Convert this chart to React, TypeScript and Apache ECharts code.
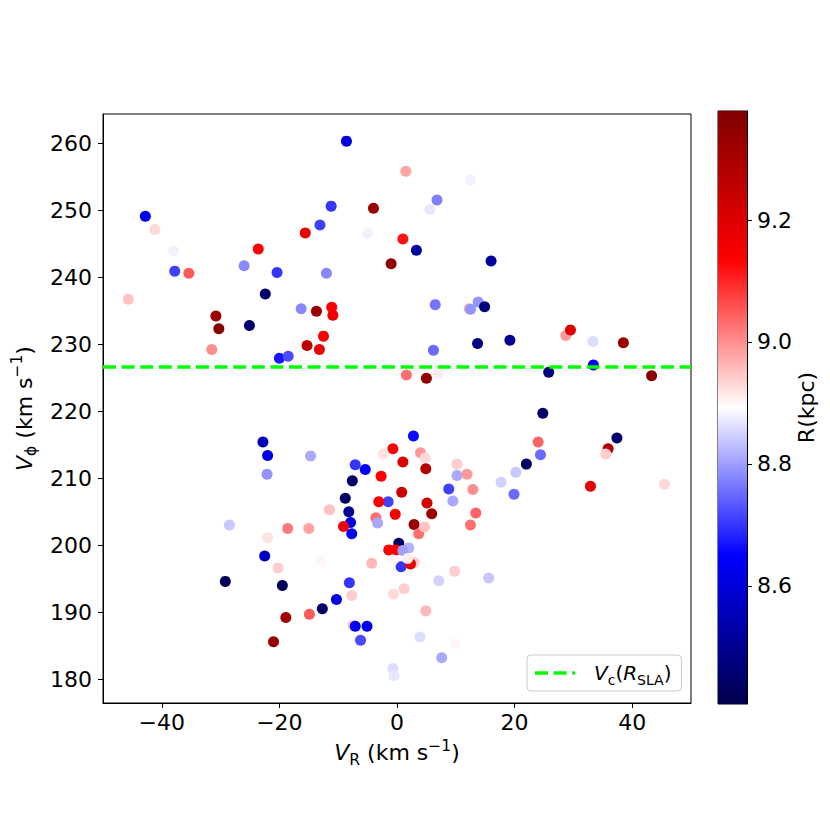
import React, { useEffect, useRef } from "react";
import * as echarts from "echarts";

// ---- data ----
const vR: number[] = [
  -8.6, -42.8, -41.2, -38.0, -37.8, -35.4, -45.7, -30.8, -30.3, -31.5,
  -26.0, -23.6, -20.4, -22.4, -25.1, -20.0, -18.5, -16.3, -15.6, -13.1,
  -11.2, -12.0, -13.7, -11.1, -10.9, -12.5, -15.3, -13.2, -5.0, -4.0,
  -1.0, 1.0, 1.5, 12.5, 6.8, 5.6, 3.3, 16.0, 6.5, 13.8,
  12.3, 12.5, 14.9, 6.2, 13.7, 19.2, 28.7, 29.5, 33.3, 38.5,
  33.4, 1.6, 5.0, 7.0, 25.8, 43.3,
  24.8, 2.8, 24.0, 24.4, 37.4, 35.9, 35.5, 22.0, 20.2, 17.7,
  19.9, 32.9, 45.5, -0.7, 4.0, 4.8, 1.0, 4.9, 10.2, 10.2,
  11.9, 8.8, 12.9, 9.5, 0.8, -1.5, 5.1, 5.9, -0.3, 13.4,
  12.5, 2.9, 3.7, 4.7, 0.3, -1.4, -0.2, 2.0, 1.0, 0.7,
  2.9, 2.3, -0.7, 1.8, 9.8, 7.1, 15.6, 1.2, -0.6, 4.9,
  3.9, 9.9, 7.6, -0.7, -0.5, -22.8, -22.0, -14.7, -22.1, -7.1,
  -5.4, -7.6, -2.3, -2.7, -8.8, -3.1, -8.2, -3.6, -3.3, -11.5,
  -7.9, -9.1, -7.7, -18.6, -15.0, -28.5, -22.0, -22.5, -20.2, -12.9,
  -4.3, -29.2, -19.5, -8.1, -7.7, -10.3, -12.7, -14.9, -18.9, -7.5,
  -7.1, -5.1, -6.2, -21.0,
];
const vPhi: number[] = [
  260.3, 249.1, 247.1, 243.9, 240.9, 240.6, 236.7, 234.2, 232.3, 229.2,
  241.7, 244.2, 240.7, 237.5, 232.8, 227.9, 228.2, 235.3, 246.6, 247.8,
  250.6, 240.6, 234.9, 235.5, 234.3, 231.2, 229.8, 229.2, 246.5, 250.3,
  242.0, 245.7, 255.8, 254.5, 251.5, 250.1, 244.0, 242.4, 235.9, 236.3,
  235.3, 235.2, 235.6, 229.1, 230.1, 230.6, 231.3, 232.1, 230.4, 230.2,
  226.9, 225.4, 224.9, 225.6, 225.8, 225.3,
  219.7, 216.3, 215.4, 213.5, 216.0, 214.4, 213.6, 212.1, 210.9, 209.4,
  207.6, 208.8, 209.1, 214.4, 213.8, 213.0, 212.4, 211.4, 212.1, 210.4,
  210.6, 208.4, 208.3, 206.6, 207.9, 206.5, 206.3, 204.7, 204.6, 204.8,
  203.0, 203.1, 201.7, 202.7, 200.3, 199.3, 199.3, 199.6, 199.2, 196.8,
  197.4, 197.2, 197.8, 198.0, 196.1, 194.7, 195.1, 193.5, 192.7, 190.2,
  186.3, 185.3, 183.2, 181.6, 180.5, 215.4, 213.4, 213.3, 210.6, 212.0,
  211.3, 209.6, 213.6, 210.3, 207.0, 206.5, 205.0, 204.1, 203.3, 205.3,
  203.4, 202.8, 201.7, 202.5, 202.5, 203.0, 201.1, 198.4, 196.6, 197.6,
  197.3, 194.6, 194.0, 194.4, 192.5, 191.9, 190.5, 189.7, 189.2, 188.0,
  187.9, 187.9, 185.8, 185.6,
];
const rKpc: number[] = [
  8.60, 8.63, 8.93, 8.88, 8.71, 9.05, 8.95, 9.32, 9.36, 9.00,
  8.78, 9.14, 8.70, 8.45, 8.45, 8.67, 8.72, 8.78, 9.18, 8.71,
  8.70, 8.78, 9.33, 9.14, 9.17, 9.14, 9.26, 9.17, 8.88, 9.33,
  9.35, 9.12, 8.98, 8.88, 8.77, 8.87, 8.52, 8.52, 8.76, 8.79,
  8.97, 8.79, 8.47, 8.75, 8.48, 8.50, 8.99, 9.20, 8.86, 9.33,
  8.63, 9.03, 9.34, 8.91, 8.47, 9.36,
  8.44, 8.66, 9.04, 8.75, 8.45, 9.28, 8.94, 8.44, 8.84, 8.85,
  8.75, 9.18, 8.93, 9.14, 8.99, 8.93, 9.20, 9.28, 8.94, 8.81,
  8.99, 8.71, 9.00, 8.81, 9.23, 8.71, 9.22, 9.32, 9.14, 9.04,
  9.03, 9.33, 9.03, 8.95, 8.44, 9.14, 9.14, 8.82, 8.80, 8.70,
  8.94, 9.17, 8.90, 8.91, 8.94, 8.85, 8.84, 8.94, 8.93, 8.96,
  8.86, 8.90, 8.81, 8.86, 8.87, 8.55, 8.62, 8.81, 8.79, 8.70,
  8.64, 8.44, 8.92, 9.14, 8.44, 9.14, 8.50, 9.03, 8.81, 8.95,
  8.61, 9.17, 8.64, 9.02, 8.98, 8.84, 8.92, 8.57, 8.94, 8.90,
  8.96, 8.42, 8.42, 8.70, 8.94, 8.61, 8.44, 9.05, 9.31, 8.95,
  8.63, 8.63, 8.72, 9.33,
];
const xTicks: number[] = [-40, -20, 0, 20, 40];
const yTicks: number[] = [180, 190, 200, 210, 220, 230, 240, 250, 260];
const cbTicks: number[] = [8.6, 8.8, 9.0, 9.2];
const vcValue = 226.6;
const rMin = 8.406;
const rMax = 9.379;
const seismic: string[] = ["#00004c", "#0000ff", "#ffffff", "#ff0000", "#7f0000"];

const FONT = "DejaVu Sans";
const FS = 22;
const FSS = 15.5;
const minus = (v: number) => String(v).replace("-", "\u2212");

const rich = {
  n: { fontSize: FS, fontFamily: FONT, color: "#000", lineHeight: 30 },
  i: { fontSize: FS, fontFamily: FONT, color: "#000", fontStyle: "italic", lineHeight: 30 },
  sub: { fontSize: FSS, fontFamily: FONT, color: "#000", lineHeight: 15, verticalAlign: "bottom" },
  sup: { fontSize: FSS, fontFamily: FONT, color: "#000", lineHeight: 15, verticalAlign: "top" },
};
const legendRich = {
  sp: { width: 14, fontSize: 20, lineHeight: 28 },
  n: { fontSize: 20, fontFamily: FONT, color: "#000", lineHeight: 28 },
  i: { fontSize: 20, fontFamily: FONT, color: "#000", fontStyle: "italic", lineHeight: 28 },
  sub: { fontSize: 14, fontFamily: FONT, color: "#000", lineHeight: 14, verticalAlign: "bottom" },
};

export default function App() {
  const ref = useRef<HTMLDivElement>(null);
  useEffect(() => {
    if (!ref.current) return;
    const chart = echarts.init(ref.current, null, { renderer: "svg" });
    const points = vR.map((x, i) => [x, vPhi[i], rKpc[i]]);
    const labelStyle = { fontSize: FS, fontFamily: FONT, color: "#000" };
    chart.setOption({
      animation: false,
      backgroundColor: "#fff",
      textStyle: { fontFamily: FONT },
      grid: [
        { left: 103, top: 114, width: 588, height: 589, show: true, borderColor: "#000", borderWidth: 1, backgroundColor: "transparent" },
        { left: 718, top: 111, width: 29, height: 593, show: true, borderColor: "#000", borderWidth: 1, backgroundColor: "transparent" },
      ],
      xAxis: [
        {
          type: "value", gridIndex: 0, min: -50, max: 50,
          splitLine: { show: false },
          axisLine: { show: true, onZero: false, lineStyle: { color: "#000", width: 1 } },
          axisTick: { show: true, inside: false, length: 5, customValues: xTicks, lineStyle: { color: "#000" } },
          axisLabel: { ...labelStyle, margin: 8, customValues: xTicks, formatter: (v: number) => minus(v) },
          name: "{i|V}{sub|R}{n| (km s}{sup|\u22121}{n|)}",
          nameLocation: "middle", nameGap: 30,
          nameTextStyle: { ...labelStyle, lineHeight: 30, rich },
        },
        { type: "value", gridIndex: 1, min: 0, max: 1, show: false },
      ],
      yAxis: [
        {
          type: "value", gridIndex: 0, min: 176.45, max: 264.35,
          splitLine: { show: false },
          axisLine: { show: true, onZero: false, lineStyle: { color: "#000", width: 1 } },
          axisTick: { show: true, inside: false, length: 5, customValues: yTicks, lineStyle: { color: "#000" } },
          axisLabel: { ...labelStyle, margin: 11, customValues: yTicks },
          name: "{i|V}{sub|\u03d5}{n| (km s}{sup|\u22121}{n|)}",
          nameLocation: "middle", nameGap: 55, nameRotate: 90,
          nameTextStyle: { ...labelStyle, lineHeight: 30, rich },
        },
        {
          type: "value", gridIndex: 1, min: rMin, max: rMax, position: "right",
          splitLine: { show: false },
          axisLine: { show: true, onZero: false, lineStyle: { color: "#000", width: 1 } },
          axisTick: { show: true, inside: false, length: 5, customValues: cbTicks, lineStyle: { color: "#000" } },
          axisLabel: { ...labelStyle, margin: 10, customValues: cbTicks, formatter: (v: number) => v.toFixed(1) },
          name: "R(kpc)", nameLocation: "middle", nameGap: 38, nameRotate: 90,
          nameTextStyle: { ...labelStyle },
        },
      ],
      visualMap: {
        type: "continuous", show: false, seriesIndex: 0, dimension: 2,
        min: rMin, max: rMax, inRange: { color: seismic },
      },
      legend: {
        left: 527, top: 655,
        padding: [4, 10, 4, 8],
        backgroundColor: "#fff", borderColor: "#cccccc", borderWidth: 1, borderRadius: 4,
        itemWidth: 40, itemHeight: 3.5,
        data: [{ name: "vc", icon: "path://M0,0H13V3.5H0ZM18.6,0H31.6V3.5H18.6ZM37.2,0H40V3.5H37.2Z" }],
        itemStyle: { color: "#00ff00", borderWidth: 0 },
        formatter: () => "{sp| }{i|V}{sub|c}{n|(}{i|R}{sub|SLA}{n|)}",
        textStyle: { fontSize: 20, fontFamily: FONT, color: "#000", lineHeight: 28, rich: legendRich },
      },
      series: [
        {
          type: "scatter", xAxisIndex: 0, yAxisIndex: 0,
          symbol: "circle", symbolSize: 11,
          itemStyle: { opacity: 1 },
          emphasis: { disabled: true },
          data: points, z: 2,
        },
        {
          name: "vc", type: "line", xAxisIndex: 0, yAxisIndex: 0,
          data: [[-50, vcValue], [50, vcValue]],
          symbol: "none", z: 3,
          lineStyle: { color: "#00ff00", width: 3.5, type: [13, 5.6], cap: "butt" },
          itemStyle: { color: "#00ff00" },
          emphasis: { disabled: true },
        },
        {
          type: "custom", xAxisIndex: 1, yAxisIndex: 1,
          data: [[0, rMin]],
          silent: true,
          renderItem: (_params: any, api: any) => {
            const p0 = api.coord([0, rMax]);
            const p1 = api.coord([1, rMin]);
            return {
              type: "rect",
              shape: { x: p0[0], y: p0[1], width: p1[0] - p0[0], height: p1[1] - p0[1] },
              style: {
                fill: new echarts.graphic.LinearGradient(0, 0, 0, 1, [
                  { offset: 0, color: seismic[4] },
                  { offset: 0.25, color: seismic[3] },
                  { offset: 0.5, color: seismic[2] },
                  { offset: 0.75, color: seismic[1] },
                  { offset: 1, color: seismic[0] },
                ]),
              },
            };
          },
        },
      ],
    });
    return () => chart.dispose();
  }, []);
  return (
    <div
      ref={ref}
      style={{ position: "fixed", left: 0, top: 0, width: 830, height: 821, background: "#fff" }}
    />
  );
}
